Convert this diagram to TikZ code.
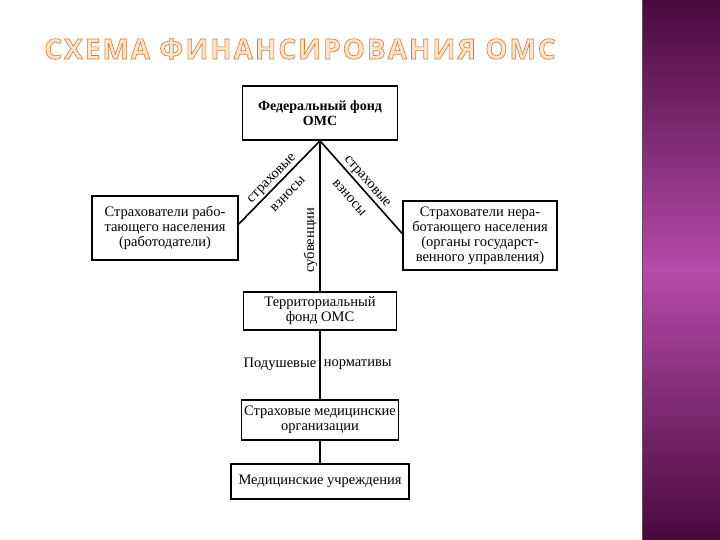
\documentclass[tikz,border=0pt]{standalone}
\usepackage{fontspec}
\setmainfont{Liberation Serif}
\newfontfamily\titlefont[LetterSpace=7]{Open Sans Bold}
\usetikzlibrary{positioning}
\definecolor{paneldark}{RGB}{72,10,62}
\definecolor{panelpurple}{RGB}{182,74,168}
\definecolor{paneledge}{RGB}{110,70,100}
\definecolor{titlefill}{RGB}{253,228,200}

% outlined letters for the heading
\newcommand{\outlinetext}[1]{\special{pdf:literal direct 0.85 0.48 0.18 RG 0.6 w 2 Tr}#1\special{pdf:literal direct 0 Tr}}

\begin{document}
\begin{tikzpicture}[x=1pt, y=-1pt,
  box/.style={draw, line width=1.6pt, align=center, inner sep=2pt, font=\fontsize{14.5}{15}\selectfont},
  link/.style={line width=1.6pt},
  lbl/.style={font=\fontsize{14.5}{15}\selectfont, inner sep=1pt}]

\useasboundingbox (0,0) rectangle (720,540);

% Purple side panel
\shade[top color=paneldark, bottom color=paneldark, middle color=panelpurple] (642,0) rectangle (720,540);
\draw[paneledge, line width=1pt] (642,0) -- (642,540);

% Heading
\node[font=\titlefont\fontsize{28}{32}\selectfont, text=titlefill] (title) at (300,49) {\outlinetext{СХЕМА ФИНАНСИРОВАНИЯ ОМС}};

% Funds and payers
\node[box, minimum width=155, minimum height=54, font=\bfseries\fontsize{14}{15}\selectfont] (fed) at (320,113) {Федеральный фонд\\ОМС};
\node[box, minimum width=146, minimum height=64] (payw) at (165,228) {Страхователи рабо-\\тающего населения\\(работодатели)};
\node[box, minimum width=154, minimum height=69] (payn) at (480,235.5) {Страхователи нера-\\ботающего населения\\(органы государст-\\венного управления)};
\node[box, minimum width=153, minimum height=38] (terr) at (320,311) {Территориальный\\фонд ОМС};
\node[box, minimum width=157, minimum height=40] (smo) at (320,420) {Страховые медицинские\\организации};
\node[box, minimum width=178, minimum height=35] (med) at (320,481.5) {Медицинские учреждения};

% Contributions
\draw[link] (fed.south) -- node[lbl, sloped, pos=0.52, above=0.5pt] {страховые} node[lbl, sloped, pos=0.52, below=9pt] {взносы} ([yshift=4pt]payw.east);
\draw[link] (fed.south) -- node[lbl, sloped, pos=0.5, above=0.5pt] {страховые} node[lbl, sloped, pos=0.5, below=10.5pt] {взносы} ([yshift=2pt]payn.west);

% Subventions and per capita norms
\draw[link] (fed.south) -- node[lbl, pos=0.66, rotate=90, anchor=south, inner sep=2pt] {субвенции} (terr.north);
\draw[link] (terr.south) -- node[lbl, pos=0.49, left, inner sep=3pt] {Подушевые} node[lbl, pos=0.49, right, inner sep=3pt] {нормативы} (smo.north);
\draw[link] (smo.south) -- (med.north);

\end{tikzpicture}
\end{document}
